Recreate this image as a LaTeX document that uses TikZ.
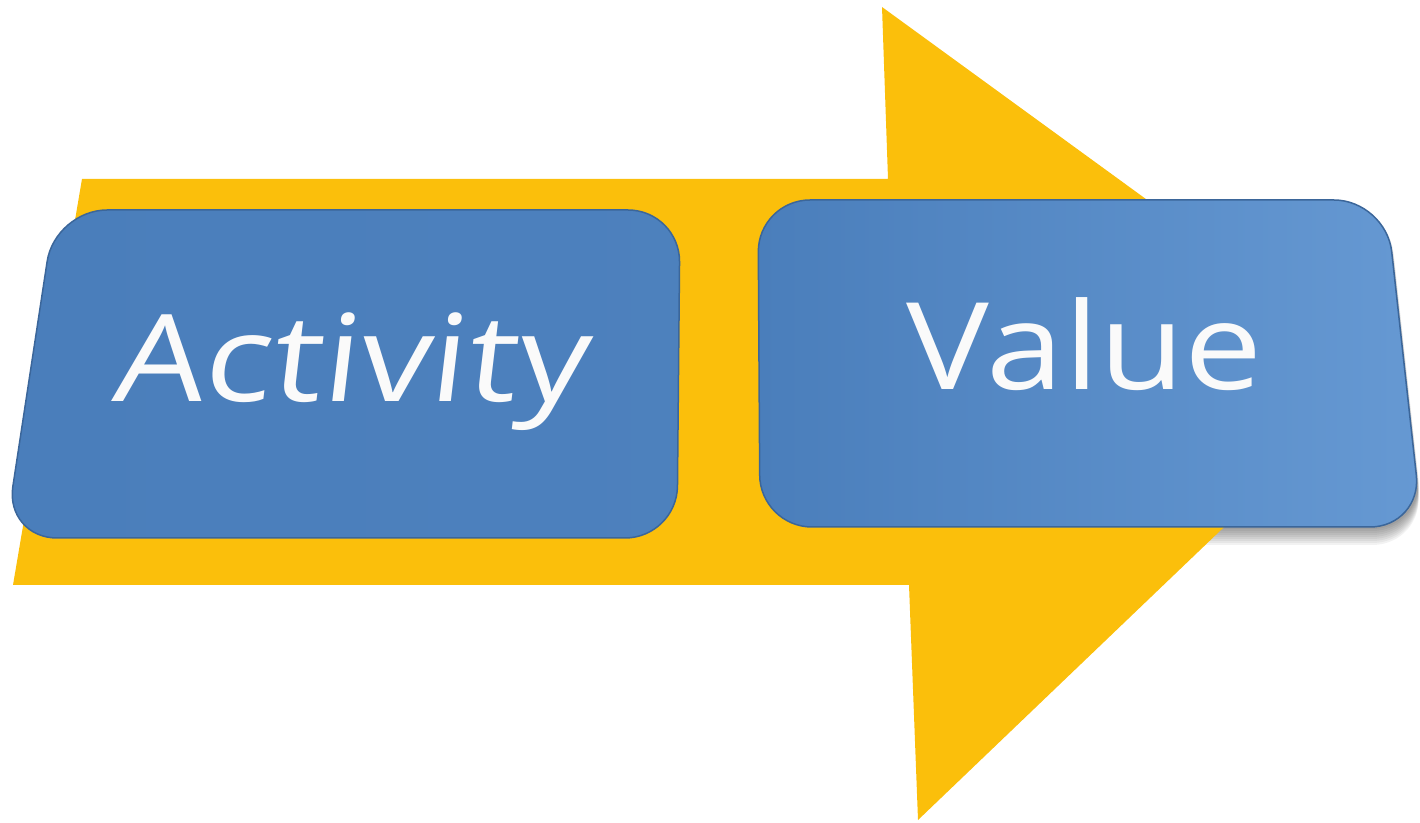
\documentclass[tikz,border=0pt]{standalone}
\usepackage{fontspec}
\setmainfont{Open Sans}
\usetikzlibrary{positioning}
\definecolor{arrowyellow}{HTML}{FBBF0B}
\definecolor{boxblue}{HTML}{4A7EBB}
\definecolor{boxlight}{HTML}{6699D3}
\definecolor{boxedge}{HTML}{3B669A}
\tikzset{
  box/.style={draw=boxedge, line width=1.5pt, rounded corners=52pt},
  word/.style={text=white!96!gray, font=\fontsize{121}{130}\selectfont, anchor=base, inner sep=0pt, transform shape},
}

\begin{document}
\begin{tikzpicture}[x=1pt,y=1pt]
\useasboundingbox (0,0) rectangle (1420,822);
% shadow of the right box
\foreach \s in {2,4,...,18}
  \fill[black,opacity=0.05,rounded corners=52pt] (762,622-\s) -- (1388,622-\s) -- (1424,295-\s) -- (764,295-\s) -- cycle;
% the big arrow
\fill[arrowyellow] (82,643) -- (888,643) -- (882,815) -- (1385,449) -- (918,2) -- (909,237) -- (13,237) -- cycle;
% boxes
\path[box, left color=boxblue, right color=boxblue!90!boxlight] (55,612) -- (680,612) -- (677,284) -- (5,284) -- cycle;
\path[box, left color=boxblue, right color=boxlight] (758,622) -- (1386,622) -- (1422,295) -- (760,295) -- cycle;
\node[word, xscale=1.18, xslant=0.1] (activity) at (349,420) {Activity};
\node[word, xscale=1.15] (value) at (1085,432) {Value};
\end{tikzpicture}
\end{document}
